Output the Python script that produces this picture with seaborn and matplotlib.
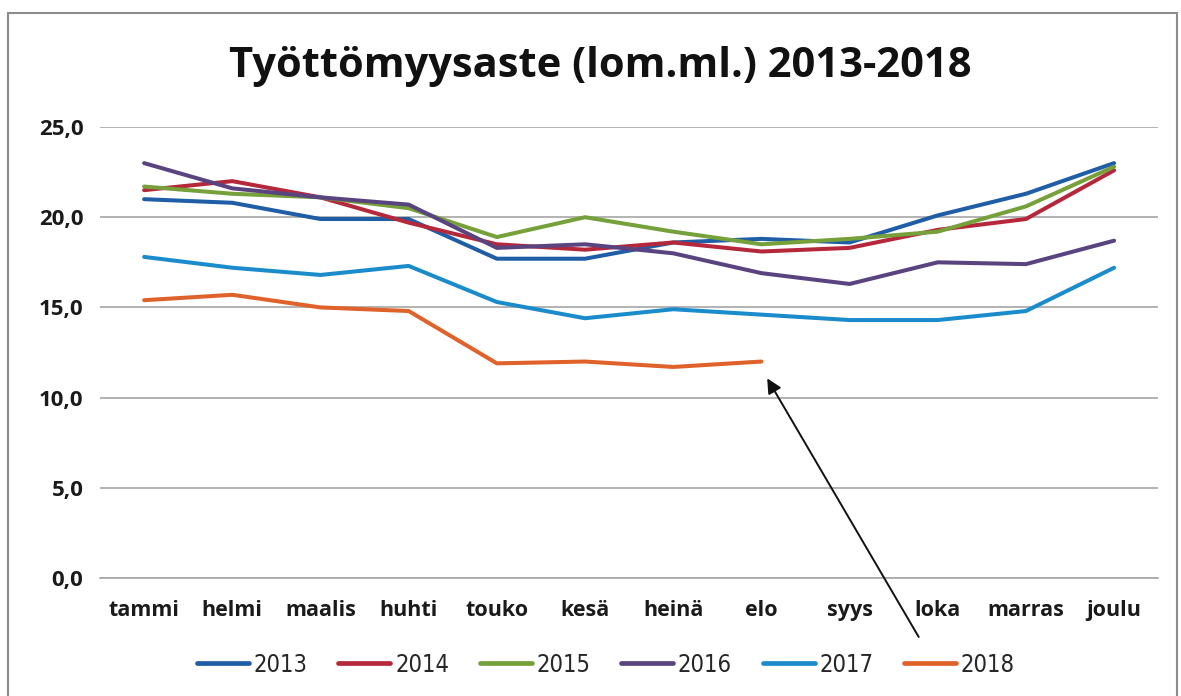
import matplotlib.pyplot as plt
import matplotlib.patches as mpatches
import seaborn as sns
import pandas as pd

months = ["tammi", "helmi", "maalis", "huhti", "touko", "kesä",
          "heinä", "elo", "syys", "loka", "marras", "joulu"]
years = ["2013", "2014", "2015", "2016", "2017", "2018"]

v2013 = [21.0, 20.8, 19.9, 19.9, 17.7, 17.7, 18.6, 18.8, 18.6, 20.1, 21.3, 23.0]
v2014 = [21.5, 22.0, 21.1, 19.7, 18.5, 18.2, 18.6, 18.1, 18.3, 19.3, 19.9, 22.6]
v2015 = [21.7, 21.3, 21.1, 20.5, 18.9, 20.0, 19.2, 18.5, 18.8, 19.2, 20.6, 22.8]
v2016 = [23.0, 21.6, 21.1, 20.7, 18.3, 18.5, 18.0, 16.9, 16.3, 17.5, 17.4, 18.7]
v2017 = [17.8, 17.2, 16.8, 17.3, 15.3, 14.4, 14.9, 14.6, 14.3, 14.3, 14.8, 17.2]
v2018 = [15.4, 15.7, 15.0, 14.8, 11.9, 12.0, 11.7, 12.0]

colors = ["#1f5ea6", "#b5283b", "#76a03a", "#5a4480", "#1b8ccb", "#e0622a"]

rows = []
for yr, vals in zip(years, [v2013, v2014, v2015, v2016, v2017, v2018]):
    for m, v in zip(months, vals):
        rows.append({"kk": m, "vuosi": yr, "arvo": v})
df = pd.DataFrame(rows)

sns.set_style("white")
plt.rcParams["font.family"] = ["Open Sans", "DejaVu Sans"]

fig = plt.figure(figsize=(11.81, 6.96), dpi=100)
ax = fig.add_axes([0.0847, 0.1695, 0.896, 0.648])

sns.lineplot(data=df, x="kk", y="arvo", hue="vuosi", palette=colors,
             linewidth=2.9, sort=False, ax=ax, legend=False)

ax.set_xlim(-0.5, 11.5)
ax.set_ylim(0, 25)
ax.set_yticks([0, 5, 10, 15, 20, 25])
ax.set_yticklabels([f"{t:.1f}".replace(".", ",") for t in [0, 5, 10, 15, 20, 25]],
                   fontsize=16, fontweight="bold", color="#1a1a1a")
ax.set_xticks(range(12))
ax.set_xticklabels(months, fontsize=15.5, fontweight="bold", color="#1a1a1a")
ax.tick_params(axis="y", length=0, pad=12)
ax.tick_params(axis="x", length=0, pad=16)
ax.grid(axis="y", color="#a6a6a6", linewidth=1.2)
ax.set_axisbelow(True)
for s in ["left", "right", "top"]:
    ax.spines[s].set_visible(False)
ax.spines["bottom"].set_color("#a6a6a6")
ax.spines["bottom"].set_linewidth(1.2)
ax.set_xlabel("")
ax.set_ylabel("")

fig.text(0.508, 0.905, "Työttömyysaste (lom.ml.) 2013-2018", ha="center", va="center",
         fontsize=30, fontweight="bold", color="#111111")

# nuoli viimeiseen havaintoon
ax.annotate("", xy=(7.05, 11.2), xytext=(8.8, -3.4),
            arrowprops=dict(arrowstyle="-|>", color="#111111", lw=1.4,
                            mutation_scale=22),
            annotation_clip=False)

handles = [plt.Line2D([], [], color=c, lw=3.4) for c in colors]
fig.legend(handles, years, loc="center", bbox_to_anchor=(0.513, 0.045), ncol=6,
           frameon=False, handlelength=2.2, handletextpad=0.2, columnspacing=1.3,
           prop={"family": ["DejaVu Sans"], "stretch": "condensed", "size": 17})

fig.patches.append(mpatches.Rectangle((0.007, -0.01), 0.99, 0.992, transform=fig.transFigure,
                                      fill=False, edgecolor="#8c8c8c", linewidth=1.5))

fig.savefig("out.png", dpi=100)
